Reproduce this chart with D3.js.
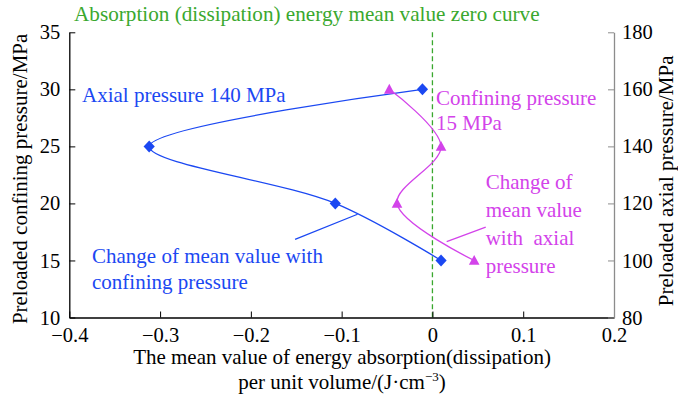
<!DOCTYPE html>
<html>
<head>
<meta charset="utf-8">
<script src="https://cdn.jsdelivr.net/npm/d3@7"></script>
<style>
  html, body { margin: 0; padding: 0; background: #fff; }
  svg text { font-family: "Liberation Serif", "Times New Roman", serif; }
</style>
</head>
<body>
<svg id="chart" width="678" height="399"></svg>
<script>
// Energy mean value versus preloaded confining pressure (axial 140 MPa)
const confiningPressure = [30, 25, 20, 15];
const energyByConfining = [-0.011, -0.312, -0.107, 0.0095];

// Energy mean value versus preloaded axial pressure (confining 15 MPa)
const axialPressure = [160, 140, 120, 100];
const energyByAxial = [-0.0475, 0.0095, -0.039, 0.046];

// Axis ticks
const xTicks = [-0.4, -0.3, -0.2, -0.1, 0, 0.1, 0.2];
const xTickLabels = ["\u22120.4", "\u22120.3", "\u22120.2", "\u22120.1", "0", "0.1", "0.2"];
const leftTicks = [10, 15, 20, 25, 30, 35];
const rightTicks = [80, 100, 120, 140, 160, 180];

const BLUE = "#1b48f2";
const MAGENTA = "#d343ea";
const GREEN = "#3aa82e";

const svg = d3.select("#chart");
const L = 69.3, R = 614, T = 32.3, B = 317.5;

const x = d3.scaleLinear().domain([-0.4, 0.2]).range([L, R]);
const yL = d3.scaleLinear().domain([10, 35]).range([B, T]);
const yR = d3.scaleLinear().domain([80, 180]).range([B, T]);

// zero line of the energy mean value
svg.append("line")
  .attr("x1", x(0)).attr("x2", x(0))
  .attr("y1", T).attr("y2", B)
  .attr("stroke", GREEN).attr("stroke-width", 1.3)
  .attr("stroke-dasharray", "5,3");

// axes (ticks point inward)
const fontSize = 20.5;
const gx = svg.append("g").attr("transform", `translate(0,${B})`)
  .call(d3.axisBottom(x).tickValues(xTicks)
    .tickFormat((d, i) => xTickLabels[i]).tickSize(-6).tickSizeOuter(0).tickPadding(5));
gx.select(".domain").attr("stroke", "#000").attr("stroke-width", 1.3);
gx.selectAll(".tick line").attr("stroke", "#000");
gx.selectAll("text").attr("font-size", fontSize).attr("fill", "#000")
  .attr("font-family", "Liberation Serif").attr("dy", "0.95em");

const gl = svg.append("g").attr("transform", `translate(${L},0)`)
  .call(d3.axisLeft(yL).tickValues(leftTicks).tickSize(-6).tickSizeOuter(0).tickPadding(9));
gl.select(".domain").attr("stroke", "#000").attr("stroke-width", 1.3);
gl.selectAll(".tick line").attr("stroke", "#000");
gl.selectAll("text").attr("font-size", fontSize).attr("fill", "#000")
  .attr("font-family", "Liberation Serif");

const gr = svg.append("g").attr("transform", `translate(${R},0)`)
  .call(d3.axisRight(yR).tickValues(rightTicks).tickSize(-6).tickSizeOuter(0).tickPadding(8));
gr.select(".domain").attr("stroke", "#8c8c8c").attr("stroke-width", 1.3);
gr.selectAll(".tick line").attr("stroke", "#8c8c8c");
gr.selectAll("text").attr("font-size", fontSize).attr("fill", "#000")
  .attr("font-family", "Liberation Serif");

// axis titles
svg.append("text")
  .attr("transform", `translate(27,${(T + B) / 2 + 4}) rotate(-90)`)
  .attr("text-anchor", "middle").attr("font-size", 21)
  .text("Preloaded confining pressure/MPa");
svg.append("text")
  .attr("transform", `translate(673,${(T + B) / 2 + 6}) rotate(-90)`)
  .attr("text-anchor", "middle").attr("font-size", 21)
  .text("Preloaded axial pressure/MPa");
svg.append("text")
  .attr("x", 342).attr("y", 364).attr("text-anchor", "middle").attr("font-size", 21)
  .text("The mean value of energy absorption(dissipation)");
const xl2 = svg.append("text")
  .attr("x", 342).attr("y", 389).attr("text-anchor", "middle").attr("font-size", 21);
xl2.append("tspan").text("per unit volume/(J\u00b7cm");
xl2.append("tspan").attr("font-size", 13).attr("dy", -8).text("\u22123");
xl2.append("tspan").attr("dy", 8).text(")");

// curves
const confPts = confiningPressure.map((p, i) => [x(energyByConfining[i]), yL(p)]);
const axPts = axialPressure.map((p, i) => [x(energyByAxial[i]), yR(p)]);
const curve = d3.line().curve(d3.curveCatmullRom.alpha(0.5));

svg.append("path").attr("d", curve(confPts))
  .attr("fill", "none").attr("stroke", BLUE).attr("stroke-width", 1.3);
svg.append("path").attr("d", curve(axPts))
  .attr("fill", "none").attr("stroke", MAGENTA).attr("stroke-width", 1.3);

// markers
svg.append("g").selectAll("path").data(confPts).join("path")
  .attr("transform", d => `translate(${d[0]},${d[1]})`)
  .attr("d", "M0,-6L5.6,0L0,6L-5.6,0Z")
  .attr("fill", BLUE);
svg.append("g").selectAll("path").data(axPts).join("path")
  .attr("transform", d => `translate(${d[0]},${d[1]})`)
  .attr("d", "M0,-5.5L5.3,4.3L-5.3,4.3Z")
  .attr("fill", MAGENTA);

// leader lines (data units on each axis)
const blueLeader = { from: [-0.1513, 16.84], to: [-0.0825, 19.05] };
const magentaLeader = { from: [0.0587, 111.7], to: [0.0157, 106.6] };
svg.append("line")
  .attr("x1", x(blueLeader.from[0])).attr("y1", yL(blueLeader.from[1]))
  .attr("x2", x(blueLeader.to[0])).attr("y2", yL(blueLeader.to[1]))
  .attr("stroke", BLUE).attr("stroke-width", 1.3);
svg.append("line")
  .attr("x1", x(magentaLeader.from[0])).attr("y1", yR(magentaLeader.from[1]))
  .attr("x2", x(magentaLeader.to[0])).attr("y2", yR(magentaLeader.to[1]))
  .attr("stroke", MAGENTA).attr("stroke-width", 1.3);

// annotations
svg.append("text").attr("x", 74).attr("y", 21).attr("font-size", 21.2)
  .attr("fill", GREEN).text("Absorption (dissipation) energy mean value zero curve");

svg.append("text").attr("x", 82).attr("y", 102).attr("font-size", 21)
  .attr("fill", BLUE).text("Axial pressure 140 MPa");

const blueNote = ["Change of mean value with", "confining pressure"];
svg.append("g").selectAll("text").data(blueNote).join("text")
  .attr("x", 92).attr("y", (d, i) => 263 + i * 26).attr("font-size", 21)
  .attr("fill", BLUE).text(d => d);

const magTop = ["Confining pressure", "15 MPa"];
svg.append("g").selectAll("text").data(magTop).join("text")
  .attr("x", 436).attr("y", (d, i) => 105 + i * 24.5).attr("font-size", 21)
  .attr("fill", MAGENTA).text(d => d);

const magNote = ["Change of", "mean value", "with  axial", "pressure"];
svg.append("g").selectAll("text").data(magNote).join("text")
  .attr("x", 485.7).attr("y", (d, i) => 189 + i * 28).attr("font-size", 21)
  .attr("fill", MAGENTA).style("white-space", "pre").text(d => d);
</script>
</body>
</html>
